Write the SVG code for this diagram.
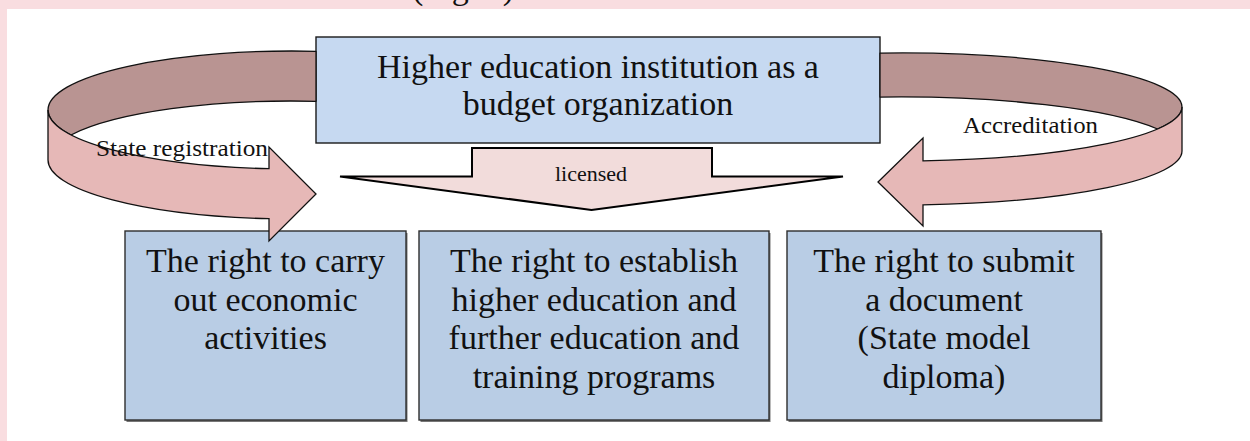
<svg xmlns="http://www.w3.org/2000/svg" width="1250" height="441" viewBox="0 0 1250 441">
  <defs>
    <style>
      .page { fill: #ffffff; }
      .margin { fill: #f9dde0; }
      .box-top { fill: #c6d9f1; stroke: #1a1a1a; stroke-width: 1.4; }
      .box { fill: #b9cde5; stroke: #2e2e2e; stroke-width: 1.4; }
      .shadow { fill: #4a4a4a; opacity: 0.75; }
      .band-back { fill: #b99492; stroke: #111; stroke-width: 1.3; stroke-linejoin: round; }
      .band-front { fill: #e6b8b7; stroke: #111; stroke-width: 1.3; stroke-linejoin: miter; }
      .down-arrow { fill: #f2dcdb; stroke: #000; stroke-width: 2; stroke-linejoin: miter; }
      .t-big { font-family: "Liberation Serif", "Times New Roman", serif; font-size: 34px; fill: #111; text-anchor: middle; }
      .t-small { font-family: "Liberation Serif", "Times New Roman", serif; font-size: 23px; fill: #111; }
      .t-mid { font-family: "Liberation Serif", "Times New Roman", serif; font-size: 22px; fill: #111; text-anchor: middle; }
    </style>
  </defs>

  <!-- page background with tinted margins -->
  <rect class="page" x="0" y="0" width="1250" height="441"/>
  <rect class="margin" x="0" y="0" width="1250" height="9"/>
  <rect class="margin" x="0" y="0" width="7" height="441"/>
  <text class="t-big" x="463" y="-1" font-size="30">(Fig. 1)</text>

  <!-- lower row -->
  <g id="node-economic">
    <rect class="shadow" x="126.5" y="233" width="281" height="189"/>
    <rect class="box" x="125" y="231" width="281" height="189"/>
    <text class="t-big" x="265.5" y="272">The right to carry</text>
    <text class="t-big" x="265.5" y="310.5">out economic</text>
    <text class="t-big" x="265.5" y="349">activities</text>
  </g>

  <g id="node-programs">
    <rect class="shadow" x="420.5" y="233" width="350" height="189"/>
    <rect class="box" x="419" y="231" width="350" height="189"/>
    <text class="t-big" x="594" y="272">The right to establish</text>
    <text class="t-big" x="594" y="310.5">higher education and</text>
    <text class="t-big" x="594" y="349">further education and</text>
    <text class="t-big" x="594" y="388">training programs</text>
  </g>

  <g id="node-diploma">
    <rect class="shadow" x="788.5" y="233" width="314" height="189"/>
    <rect class="box" x="787" y="231" width="314" height="189"/>
    <text class="t-big" x="944" y="272">The right to submit</text>
    <text class="t-big" x="944" y="310.5">a document</text>
    <text class="t-big" x="944" y="349">(State model</text>
    <text class="t-big" x="944" y="388">diploma)</text>
  </g>

  <!-- upper node -->
  <g id="node-institution">
    <rect class="box-top" x="316" y="37" width="564" height="106"/>
    <text class="t-big" x="598" y="78">Higher education institution as a</text>
    <text class="t-big" x="598" y="114.5">budget organization</text>
  </g>

  <g id="connectors">
    <!-- left loop: far side of the band -->
    <path class="band-back" d="M316,51.3 A244,59 0 0 0 48,110 A244,59 0 0 0 71,135 A244,59 0 0 1 316,101.3 Z"/>
    <!-- left loop: near side ending in the arrowhead -->
    <path class="band-front" d="M48,110 A244,59 0 0 0 269,168.7 L269,147 L316,194 L269,241 L269,218.7 A244,59 0 0 1 48,160 Z"/>
    <text class="t-small" x="96" y="156" textLength="172" lengthAdjust="spacingAndGlyphs">State registration</text>

    <!-- right loop: far side of the band -->
    <path class="band-back" d="M880,53.1 A282,54 0 0 1 1182,107 A282,54 0 0 1 1157.5,129 A282,54 0 0 0 880,97.1 Z"/>
    <!-- right loop: near side ending in the arrowhead -->
    <path class="band-front" d="M1182,107 A282,54 0 0 1 923,160.8 L923,138 L878,182 L923,226 L923,204.8 A282,54 0 0 0 1182,151 Z"/>
    <text class="t-small" x="963" y="133" textLength="135" lengthAdjust="spacingAndGlyphs">Accreditation</text>

    <!-- downward block arrow -->
    <path class="down-arrow" d="M472,148 L712,148 L712,176.5 L843,176.5 L591.5,210 L340,176.5 L472,176.5 Z"/>
    <text class="t-mid" x="591" y="181">licensed</text>
  </g>
</svg>
